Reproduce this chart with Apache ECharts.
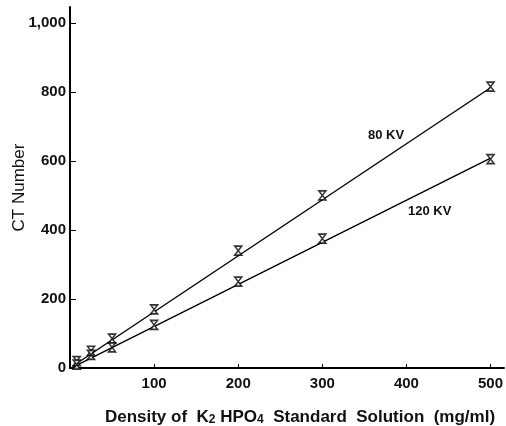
<!DOCTYPE html>
<html>
<head>
<meta charset="utf-8">
<script src="https://cdn.jsdelivr.net/npm/echarts@6/dist/echarts.min.js"></script>
<style>
  html, body { margin: 0; padding: 0; background: #fff; }
  #main { width: 506px; height: 426px; }
</style>
</head>
<body>
<div id="main"></div>
<script>
// measured points (density mg/ml, CT number)
var density = [8, 25, 50, 100, 200, 300, 500];
var ct80 = [20, 50, 85, 170, 340, 500, 815];
var ct120 = [10, 38, 60, 125, 250, 375, 605];
// fitted lines, end points
var fit80 = [[3, 5], [500, 812]];
var fit120 = [[3, 2], [500, 608]];
var xTicks = [100, 200, 300, 400, 500];
var yTicks = [0, 200, 400, 600, 800, 1000];

var hourglass = "path://M0,0 L10,0 L0,14 L10,14 Z";
var font = "Liberation Sans";

function pts(ys) {
  return density.map(function (d, i) { return [d, ys[i]]; });
}

var myChart = echarts.init(document.getElementById("main"));
var option = {
  animation: false,
  grid: { left: 70, right: 2, top: 7, bottom: 58, containLabel: false, outerBoundsMode: "none" },
  xAxis: {
    type: "value",
    min: 0,
    max: 516,
    splitLine: { show: false },
    axisLine: { lineStyle: { color: "#000", width: 2 } },
    axisTick: { inside: true, length: 4, customValues: xTicks, lineStyle: { color: "#000" } },
    axisLabel: {
      customValues: xTicks,
      color: "#111", fontFamily: font, fontWeight: "bold", fontSize: 15, margin: 8
    },
    name: "{a|Density of  K}{s|2}{a| HPO}{s|4}{a|  Standard  Solution  (mg/ml)}",
    nameLocation: "middle",
    nameGap: 40,
    nameMoveOverlap: false,
    nameTextStyle: {
      padding: [0, 0, 0, 26],
      rich: {
        a: { fontFamily: font, fontWeight: "bold", fontSize: 17, color: "#111" },
        s: { fontFamily: font, fontWeight: "bold", fontSize: 12, color: "#111", padding: [6, 0, 0, 0] }
      }
    }
  },
  yAxis: {
    type: "value",
    min: 0,
    max: 1046,
    splitLine: { show: false },
    axisLine: { lineStyle: { color: "#000", width: 2 } },
    axisTick: { inside: true, length: 6, customValues: yTicks, lineStyle: { color: "#000" } },
    axisLabel: {
      customValues: yTicks,
      color: "#111", fontFamily: font, fontWeight: "bold", fontSize: 15, margin: 4,
      formatter: function (v) { return v === 1000 ? "1,000" : String(v); }
    },
    name: "CT Number",
    nameLocation: "middle",
    nameGap: 42,
    nameMoveOverlap: false,
    nameTextStyle: { fontFamily: font, fontSize: 17, color: "#111" }
  },
  series: [
    {
      name: "80 KV fit", type: "line", data: fit80, showSymbol: false,
      lineStyle: { color: "#000", width: 1.4 }, z: 2
    },
    {
      name: "120 KV fit", type: "line", data: fit120, showSymbol: false,
      lineStyle: { color: "#000", width: 1.4 }, z: 2
    },
    {
      name: "80 KV", type: "scatter", data: pts(ct80),
      symbol: hourglass, symbolSize: [7, 9],
      itemStyle: { color: "#fff", borderColor: "#000", borderWidth: 1.5 }, z: 3
    },
    {
      name: "120 KV", type: "scatter", data: pts(ct120),
      symbol: hourglass, symbolSize: [7, 9],
      itemStyle: { color: "#fff", borderColor: "#000", borderWidth: 1.5 }, z: 3
    }
  ],
  graphic: [
    { type: "text", left: 368, top: 129, style: { text: "80 KV", fontFamily: font, fontWeight: "bold", fontSize: 13, fill: "#111" } },
    { type: "text", left: 408, top: 205, style: { text: "120 KV", fontFamily: font, fontWeight: "bold", fontSize: 13, fill: "#111" } }
  ]
};
myChart.setOption(option);
</script>
</body>
</html>
